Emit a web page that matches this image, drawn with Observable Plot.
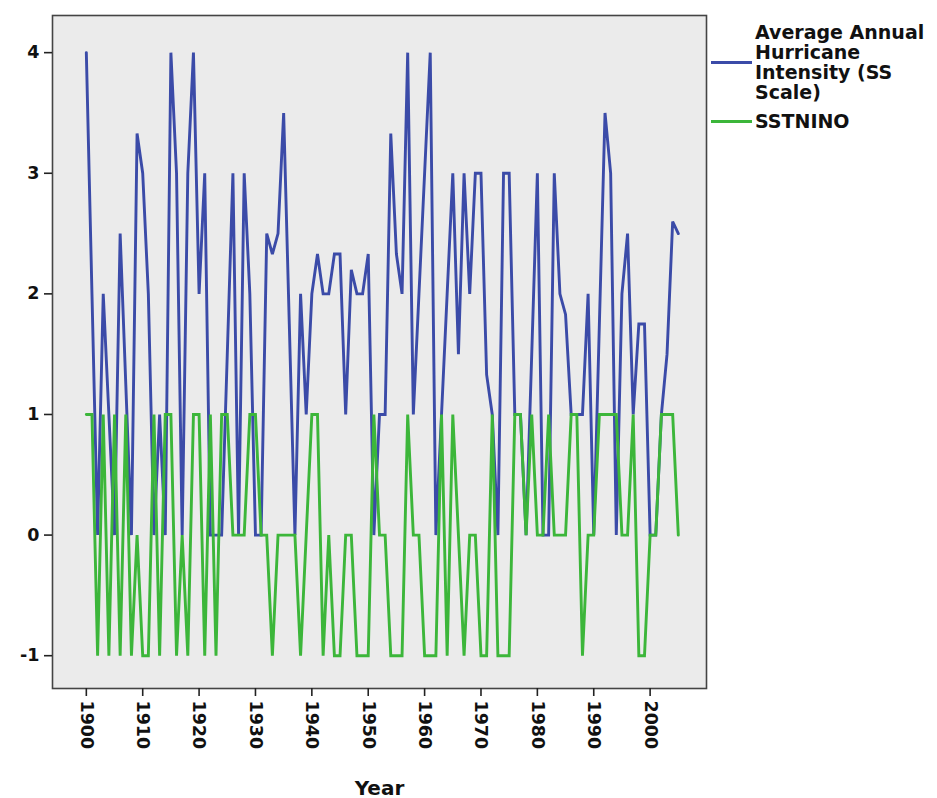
<!DOCTYPE html>
<html>
<head>
<meta charset="utf-8">
<script src="https://cdn.jsdelivr.net/npm/d3@7"></script>
<script src="https://cdn.jsdelivr.net/npm/@observablehq/plot@0.6"></script>
<style>
  html, body { margin: 0; padding: 0; background: #fff; }
  #wrap { position: relative; width: 937px; height: 798px; font-family: "DejaVu Sans", Verdana, sans-serif; }
  #legend { position: absolute; left: 0; top: 0; width: 937px; height: 150px; pointer-events: none; }
  .lg-text { position: absolute; left: 755px; font-weight: bold; font-size: 19px; line-height: 20px; color: #111; white-space: pre; }
  .lg-swatch { position: absolute; left: 711px; width: 41px; height: 3px; }
</style>
</head>
<body>
<div id="wrap"><div id="legend"></div></div>
<script>
const years = [
  1900,1901,1902,1903,1904,1905,1906,1907,1908,1909,
  1910,1911,1912,1913,1914,1915,1916,1917,1918,1919,
  1920,1921,1922,1923,1924,1925,1926,1927,1928,1929,
  1930,1931,1932,1933,1934,1935,1936,1937,1938,1939,
  1940,1941,1942,1943,1944,1945,1946,1947,1948,1949,
  1950,1951,1952,1953,1954,1955,1956,1957,1958,1959,
  1960,1961,1962,1963,1964,1965,1966,1967,1968,1969,
  1970,1971,1972,1973,1974,1975,1976,1977,1978,1979,
  1980,1981,1982,1983,1984,1985,1986,1987,1988,1989,
  1990,1991,1992,1993,1994,1995,1996,1997,1998,1999,
  2000,2001,2002,2003,2004,2005
];
const hurricaneIntensity = [
  4, 2, 0, 2, 1, 0, 2.5, 1.25, 0, 3.33,
  3, 2, 0, 1, 0, 4, 3, 0, 3, 4,
  2, 3, 0, 0, 0, 1.5, 3, 0, 3, 2,
  0, 0, 2.5, 2.33, 2.5, 3.5, 1.75, 0, 2, 1,
  2, 2.33, 2, 2, 2.33, 2.33, 1, 2.2, 2, 2,
  2.33, 0, 1, 1, 3.33, 2.33, 2, 4, 1, 2,
  3, 4, 0, 1, 2, 3, 1.5, 3, 2, 3,
  3, 1.33, 1, 0, 3, 3, 1, 1, 0, 1.5,
  3, 0, 0, 3, 2, 1.83, 1, 1, 1, 2,
  0, 1.75, 3.5, 3, 0, 2, 2.5, 1, 1.75, 1.75,
  0, 0, 1, 1.5, 2.6, 2.5
];
const sstnino = [
  1, 1, -1, 1, -1, 1, -1, 1, -1, 0,
  -1, -1, 1, -1, 1, 1, -1, 0, -1, 1,
  1, -1, 1, -1, 1, 1, 0, 0, 0, 1,
  1, 0, 0, -1, 0, 0, 0, 0, -1, 0,
  1, 1, -1, 0, -1, -1, 0, 0, -1, -1,
  -1, 1, 0, 0, -1, -1, -1, 1, 0, 0,
  -1, -1, -1, 1, -1, 1, 0, -1, 0, 0,
  -1, -1, 1, -1, -1, -1, 1, 1, 0, 1,
  0, 0, 1, 0, 0, 0, 1, 1, -1, 0,
  0, 1, 1, 1, 1, 0, 0, 1, -1, -1,
  0, 0, 1, 1, 1, 0
];
const seriesNames = ["Average Annual Hurricane Intensity (SS Scale)", "SSTNINO"];
const seriesColors = ["#3b4ba8", "#3cb63a"];
const legendLines = [["Average Annual", "Hurricane", "Intensity (SS", "Scale)"], ["SSTNINO"]];
const xTicks = [1900, 1910, 1920, 1930, 1940, 1950, 1960, 1970, 1980, 1990, 2000];
const yTicks = [-1, 0, 1, 2, 3, 4];
const xTitle = "Year";

const data = [
  ...years.map((yr, i) => ({year: yr, value: hurricaneIntensity[i], series: seriesNames[0]})),
  ...years.map((yr, i) => ({year: yr, value: sstnino[i], series: seriesNames[1]}))
];

const chart = Plot.plot({
  width: 937,
  height: 798,
  marginLeft: 52,
  marginRight: 231,
  marginTop: 15,
  marginBottom: 110,
  style: {fontFamily: "DejaVu Sans, Verdana, sans-serif", fontWeight: "bold", fontSize: "17px", color: "#111", background: "transparent", overflow: "visible"},
  x: {domain: [1894, 2010], label: null},
  y: {domain: [-1.272, 4.308], label: null},
  color: {domain: seriesNames, range: seriesColors},
  marks: [
    Plot.frame({fill: "#ebebeb", stroke: null}),
    Plot.lineY(data, {x: "year", y: "value", z: "series", stroke: "series", strokeWidth: 2.9, strokeLinejoin: "miter", strokeMiterlimit: 3}),
    Plot.frame({stroke: "#444", strokeWidth: 1.6}),
    Plot.axisX(xTicks, {tickFormat: "d", tickRotate: 90, tickSize: 8, tickPadding: 4, stroke: "#222", strokeWidth: 1.6, fontWeight: "bold", fontSize: 17.5}),
    Plot.axisY(yTicks, {tickFormat: d => (d < 0 ? "-" + Math.abs(d) : String(d)), tickSize: 8, tickPadding: 5, stroke: "#222", strokeWidth: 1.6, fontWeight: "bold", fontSize: 17.5}),
    Plot.text([xTitle], {frameAnchor: "bottom", dy: 106, text: d => d, fontSize: 20, fontWeight: "bold", fill: "#111"})
  ]
});

const wrap = document.getElementById("wrap");
wrap.insertBefore(chart, wrap.firstChild);

const legend = document.getElementById("legend");
const swatchY = [62, 121];
const textTop = [22, 111];
legendLines.forEach((lines, i) => {
  const sw = document.createElement("div");
  sw.className = "lg-swatch";
  sw.style.top = (swatchY[i] - 1.5) + "px";
  sw.style.background = seriesColors[i];
  legend.appendChild(sw);
  const t = document.createElement("div");
  t.className = "lg-text";
  t.style.top = textTop[i] + "px";
  t.textContent = lines.join("\n");
  legend.appendChild(t);
});
</script>
</body>
</html>
